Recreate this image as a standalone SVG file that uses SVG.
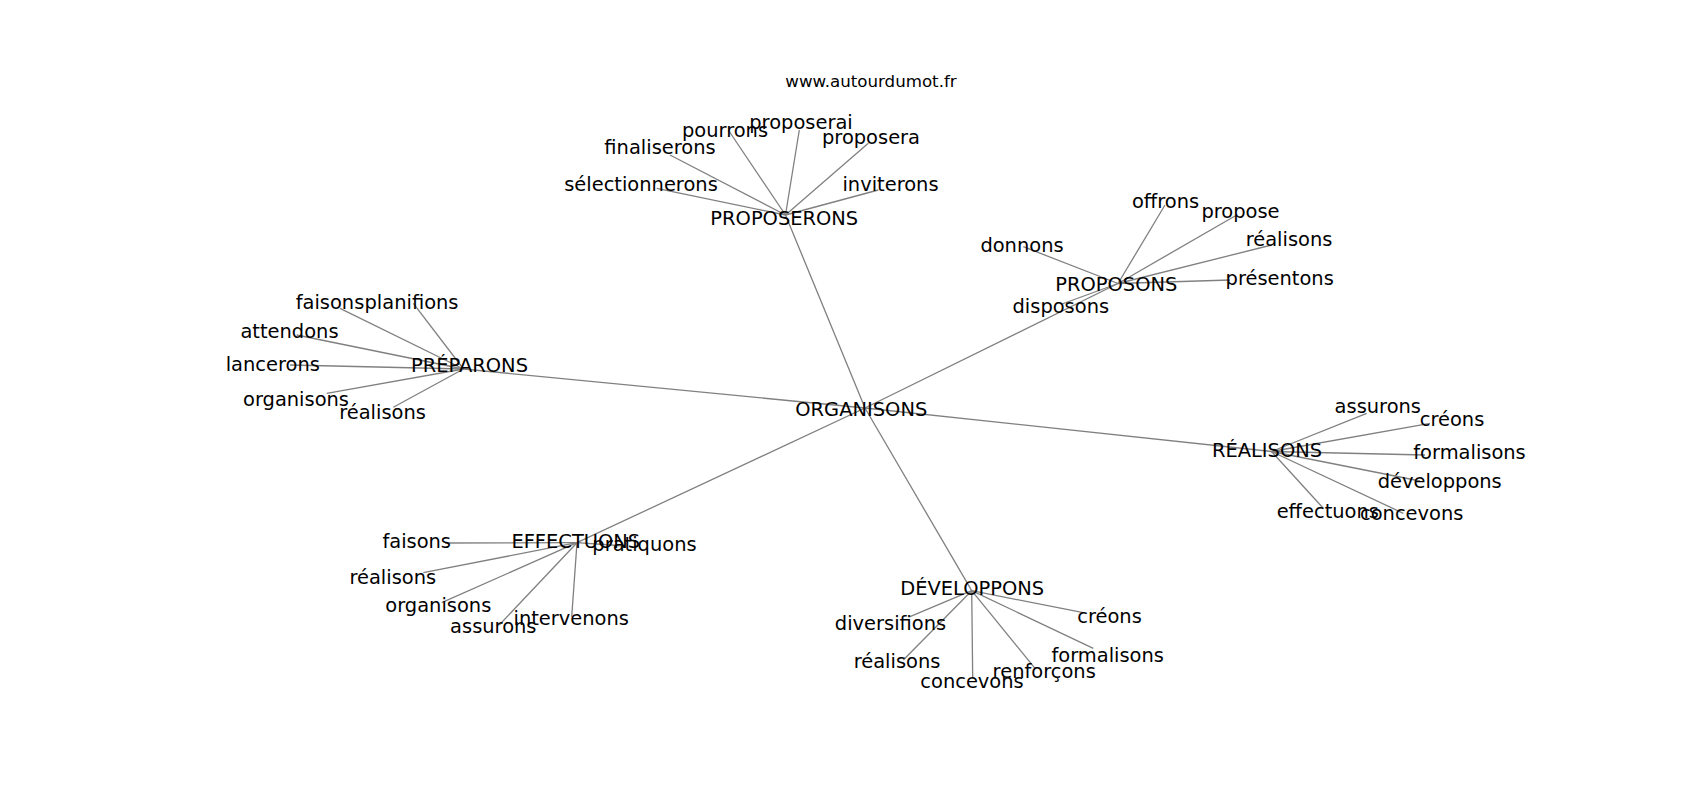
<svg xmlns="http://www.w3.org/2000/svg" width="1700" height="800" viewBox="0 0 1700 800">
<style>
.bg{fill:#ffffff}
.e{stroke:#808080;stroke-width:1.3;fill:none}
.l{font-family:"DejaVu Sans","Liberation Sans",sans-serif;font-size:19.44px;fill:#000000;text-anchor:middle}
.u{font-family:"DejaVu Sans","Liberation Sans",sans-serif;font-size:16.67px;fill:#000000;text-anchor:middle}
</style>
<rect class="bg" x="0" y="0" width="1700" height="800"/>
<g id="connectors">
<line class="e" x1="865" y1="408" x2="785.5" y2="215"/>
<line class="e" x1="865" y1="408" x2="1118" y2="283.5"/>
<line class="e" x1="865" y1="408" x2="463.5" y2="369"/>
<line class="e" x1="865" y1="408" x2="1271.5" y2="451.5"/>
<line class="e" x1="865" y1="408" x2="577" y2="542.7"/>
<line class="e" x1="865" y1="408" x2="971.7" y2="590.7"/>
<line class="e" x1="785.5" y1="215" x2="656.7" y2="188.3"/>
<line class="e" x1="785.5" y1="215" x2="670" y2="155"/>
<line class="e" x1="785.5" y1="215" x2="728.3" y2="130"/>
<line class="e" x1="785.5" y1="215" x2="799.3" y2="130"/>
<line class="e" x1="785.5" y1="215" x2="868.3" y2="143.3"/>
<line class="e" x1="785.5" y1="215" x2="878.3" y2="190"/>
<line class="e" x1="1118" y1="283.5" x2="1165" y2="205"/>
<line class="e" x1="1118" y1="283.5" x2="1235" y2="216"/>
<line class="e" x1="1118" y1="283.5" x2="1271.7" y2="245"/>
<line class="e" x1="1118" y1="283.5" x2="1023.3" y2="246.7"/>
<line class="e" x1="1118" y1="283.5" x2="1230" y2="280"/>
<line class="e" x1="1118" y1="283.5" x2="1062" y2="304"/>
<line class="e" x1="463.5" y1="369" x2="340" y2="308.3"/>
<line class="e" x1="463.5" y1="369" x2="413.3" y2="303.3"/>
<line class="e" x1="463.5" y1="369" x2="296.7" y2="335"/>
<line class="e" x1="463.5" y1="369" x2="290" y2="365"/>
<line class="e" x1="463.5" y1="369" x2="326.7" y2="393.3"/>
<line class="e" x1="463.5" y1="369" x2="393.3" y2="407.3"/>
<line class="e" x1="1271.5" y1="451.5" x2="1366.7" y2="413.3"/>
<line class="e" x1="1271.5" y1="451.5" x2="1430" y2="423.3"/>
<line class="e" x1="1271.5" y1="451.5" x2="1425" y2="455"/>
<line class="e" x1="1271.5" y1="451.5" x2="1420" y2="481"/>
<line class="e" x1="1271.5" y1="451.5" x2="1323.3" y2="508.3"/>
<line class="e" x1="1271.5" y1="451.5" x2="1403.3" y2="513.3"/>
<line class="e" x1="577" y1="542.7" x2="445" y2="543"/>
<line class="e" x1="577" y1="542.7" x2="625" y2="546"/>
<line class="e" x1="577" y1="542.7" x2="423.3" y2="572.7"/>
<line class="e" x1="577" y1="542.7" x2="441.7" y2="602.7"/>
<line class="e" x1="577" y1="542.7" x2="499.3" y2="625"/>
<line class="e" x1="577" y1="542.7" x2="571.7" y2="616.7"/>
<line class="e" x1="971.7" y1="590.7" x2="910" y2="616.7"/>
<line class="e" x1="971.7" y1="590.7" x2="1083.3" y2="612.7"/>
<line class="e" x1="971.7" y1="590.7" x2="1093.3" y2="648.3"/>
<line class="e" x1="971.7" y1="590.7" x2="903.3" y2="660"/>
<line class="e" x1="971.7" y1="590.7" x2="1035" y2="668.3"/>
<line class="e" x1="971.7" y1="590.7" x2="972.7" y2="678.3"/>
</g>
<g id="source"><text class="u" x="871" y="87">www.autourdumot.fr</text></g>
<g id="n-organisons"><text class="l" x="861.3" y="416">ORGANISONS</text></g>
<g id="n-proposerons"><text class="l" x="784.3" y="225">PROPOSERONS</text></g>
<g id="n-proposerons-selectionnerons"><text class="l" x="641" y="191">sélectionnerons</text></g>
<g id="n-proposerons-finaliserons"><text class="l" x="660" y="154">finaliserons</text></g>
<g id="n-proposerons-pourrons"><text class="l" x="725" y="136.7">pourrons</text></g>
<g id="n-proposerons-proposerai"><text class="l" x="801" y="129.3">proposerai</text></g>
<g id="n-proposerons-proposera"><text class="l" x="871" y="144.3">proposera</text></g>
<g id="n-proposerons-inviterons"><text class="l" x="890.5" y="191">inviterons</text></g>
<g id="n-proposons"><text class="l" x="1116.3" y="290.7">PROPOSONS</text></g>
<g id="n-proposons-offrons"><text class="l" x="1165.5" y="208.3">offrons</text></g>
<g id="n-proposons-propose"><text class="l" x="1240.5" y="218.3">propose</text></g>
<g id="n-proposons-realisons"><text class="l" x="1289" y="246">réalisons</text></g>
<g id="n-proposons-donnons"><text class="l" x="1022" y="251.7">donnons</text></g>
<g id="n-proposons-presentons"><text class="l" x="1279.7" y="285">présentons</text></g>
<g id="n-proposons-disposons"><text class="l" x="1060.8" y="312.7">disposons</text></g>
<g id="n-preparons"><text class="l" x="469.5" y="371.7">PRÉPARONS</text></g>
<g id="n-preparons-faisons"><text class="l" x="330" y="309.3">faisons</text></g>
<g id="n-preparons-planifions"><text class="l" x="411.5" y="309.3">planifions</text></g>
<g id="n-preparons-attendons"><text class="l" x="289.5" y="337.7">attendons</text></g>
<g id="n-preparons-lancerons"><text class="l" x="272.8" y="370.7">lancerons</text></g>
<g id="n-preparons-organisons"><text class="l" x="296" y="406">organisons</text></g>
<g id="n-preparons-realisons"><text class="l" x="382.5" y="419.3">réalisons</text></g>
<g id="n-realisons"><text class="l" x="1267" y="456.7">RÉALISONS</text></g>
<g id="n-realisons-assurons"><text class="l" x="1377.8" y="413.3">assurons</text></g>
<g id="n-realisons-creons"><text class="l" x="1452" y="426">créons</text></g>
<g id="n-realisons-formalisons"><text class="l" x="1469.5" y="459">formalisons</text></g>
<g id="n-realisons-developpons"><text class="l" x="1439.7" y="488.3">développons</text></g>
<g id="n-realisons-effectuons"><text class="l" x="1327.8" y="517.7">effectuons</text></g>
<g id="n-realisons-concevons"><text class="l" x="1411.7" y="520">concevons</text></g>
<g id="n-effectuons"><text class="l" x="575.8" y="548.3">EFFECTUONS</text></g>
<g id="n-effectuons-faisons"><text class="l" x="416.7" y="548.3">faisons</text></g>
<g id="n-effectuons-pratiquons"><text class="l" x="644.5" y="551">pratiquons</text></g>
<g id="n-effectuons-realisons"><text class="l" x="392.8" y="584.3">réalisons</text></g>
<g id="n-effectuons-organisons"><text class="l" x="438.3" y="611.7">organisons</text></g>
<g id="n-effectuons-assurons"><text class="l" x="493.3" y="633.3">assurons</text></g>
<g id="n-effectuons-intervenons"><text class="l" x="571.2" y="625">intervenons</text></g>
<g id="n-developpons"><text class="l" x="972.2" y="595">DÉVELOPPONS</text></g>
<g id="n-developpons-diversifions"><text class="l" x="890.5" y="630">diversifions</text></g>
<g id="n-developpons-creons"><text class="l" x="1109.5" y="622.7">créons</text></g>
<g id="n-developpons-formalisons"><text class="l" x="1107.7" y="661.7">formalisons</text></g>
<g id="n-developpons-realisons"><text class="l" x="897" y="668.3">réalisons</text></g>
<g id="n-developpons-renforcons"><text class="l" x="1044.2" y="678.3">renforçons</text></g>
<g id="n-developpons-concevons"><text class="l" x="972" y="688.3">concevons</text></g>
</svg>
